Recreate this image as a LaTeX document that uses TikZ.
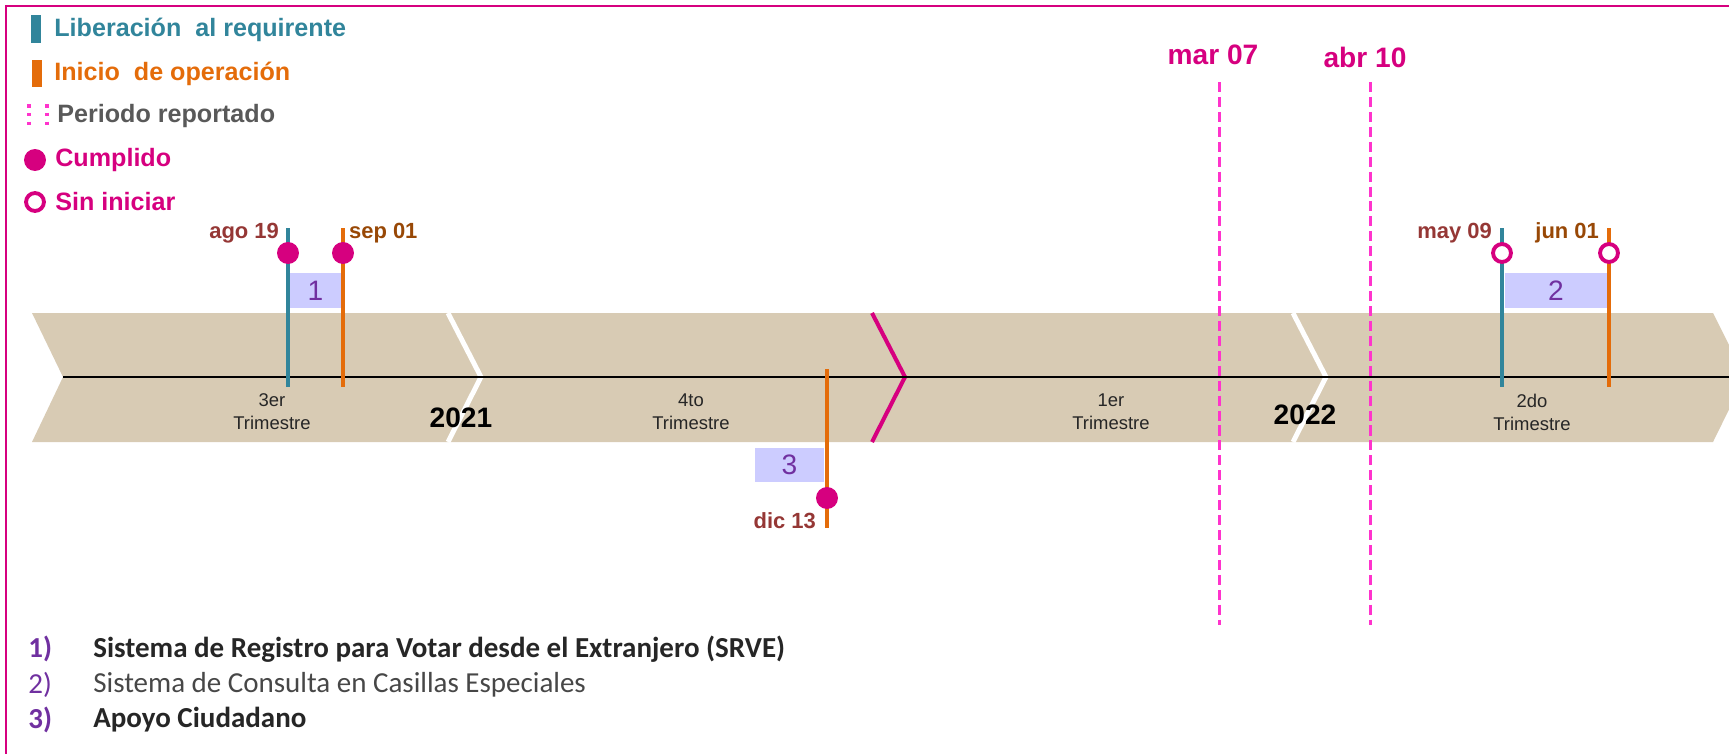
\documentclass[tikz,border=0pt]{standalone}
\usepackage{fontspec}
\setmainfont{Liberation Sans}
\newfontfamily\calibri{Carlito}
\usetikzlibrary{positioning}

\begin{document}
\begin{tikzpicture}[x=0.02cm,y=-0.02cm,
	hito/.style={line width=2.3pt},
	cumplido/.style={circle,fill=rosa,minimum size=12.5pt,inner sep=0pt},
	sininiciar/.style={circle,draw=rosa,fill=white,line width=2.2pt,minimum size=10.2pt,inner sep=0pt},
	fecha/.style={font=\bfseries\fontsize{12.5}{14}\selectfont,inner sep=1pt},
	caja/.style={fill=lila,text=morado,font=\fontsize{16}{18}\selectfont,inner sep=0pt,minimum height=19.8pt},
	trim/.style={align=center,text=texto,font=\fontsize{10.5}{13}\selectfont},
	anio/.style={font=\bfseries\fontsize{16}{18}\selectfont},
	leyenda/.style={anchor=west,inner sep=0pt,font=\bfseries\fontsize{14.3}{16}\selectfont},
	lista/.style={anchor=west,inner sep=0pt,text=texto,font=\calibri\fontsize{16.5}{18}\selectfont},
	listab/.style={lista,font=\calibri\bfseries\fontsize{16.5}{18}\selectfont},
	corte/.style={draw=white,line width=2.8pt},
	periodo/.style={draw=rosaclaro,line width=1.7pt,dash pattern=on 5.7pt off 2.8pt}]
	
	\definecolor{liber}{RGB}{49,133,155}
	\definecolor{inicio}{RGB}{228,108,10}
	\definecolor{rosa}{RGB}{214,0,127}
	\definecolor{rosaclaro}{RGB}{255,51,204}
	\definecolor{beige}{RGB}{216,203,180}
	\definecolor{lila}{RGB}{204,204,255}
	\definecolor{morado}{RGB}{112,48,160}
	\definecolor{vino}{RGB}{149,55,53}
	\definecolor{cafe}{RGB}{152,72,6}
	\definecolor{gris}{RGB}{89,89,89}
	\definecolor{texto}{RGB}{38,38,38}
	
	\path[use as bounding box,clip] (0,0) rectangle (1729,754);
	\draw[rosa,line width=1.2pt] (6,760) -- (6,6) -- (1735,6);
	
	% leyenda
	\fill[liber] (31,15) rectangle (41,43);
	\node[leyenda,text=liber] (lib) at (54,30) {Liberación\ \ al requirente};
	\fill[inicio] (32,60) rectangle (42,87);
	\node[leyenda,text=inicio] (ini) at (54,74) {Inicio\ \ de operación};
	\draw[rosaclaro,line width=2pt,dash pattern=on 2pt off 3pt] (29,104) -- (29,128);
	\draw[rosaclaro,line width=2pt,dash pattern=on 2pt off 3pt] (47,104) -- (47,128);
	\node[leyenda,text=gris] (per) at (57,116) {Periodo reportado};
	\node[cumplido] (lc) at (35,160) {};
	\node[leyenda,text=rosa] (cum) at (55,160) {Cumplido};
	\node[sininiciar] (ls) at (35,202) {};
	\node[leyenda,text=rosa] (sin) at (55,202) {Sin iniciar};
	
	% linea de tiempo
	\fill[beige] (32,313) -- (1713,313) -- (1745,377) -- (1713,442) -- (32,442) -- (63,377) -- cycle;
	\draw[corte] (448,313) -- (481,377) -- (448,442);
	\draw[corte] (1293,313) -- (1326,377) -- (1293,442);
	\draw[rosa,line width=2.3pt] (872,313) -- (905,377) -- (872,442);
	\draw[line width=1.2pt] (63,377) -- (1729,377);
	
	\node[trim] (t3) at (272,412) {3er\\Trimestre};
	\node[trim] (t4) at (691,412) {4to\\Trimestre};
	\node[trim] (t1) at (1111,412) {1er\\Trimestre};
	\node[trim] (t2) at (1532,412) {2do\\Trimestre};
	\node[anio] (a21) at (461,418) {2021};
	\node[anio] (a22) at (1305,415) {2022};
	
	% periodo reportado
	\node[anio,text=rosa] (mar) at (1213,55) {mar 07};
	\node[anio,text=rosa] (abr) at (1365,57) {abr 10};
	\coordinate (m0) at (1219,82);
	\coordinate (m1) at (1219,625);
	\coordinate (b0) at (1370,82);
	\coordinate (b1) at (1370,625);
	\draw[periodo] (m0) -- (m1);
	\draw[periodo] (b0) -- (b1);
	
	% sistema 1
	\node[caja,minimum width=28.9pt] (c1) at (315.5,290.5) {1};
	\coordinate (l1a) at (288,228);
	\coordinate (l1b) at (288,387);
	\coordinate (o1a) at (343,228);
	\coordinate (o1b) at (343,387);
	\draw[hito,liber] (l1a) -- (l1b);
	\draw[hito,inicio] (o1a) -- (o1b);
	\node[cumplido] (p1) at (288,253) {};
	\node[cumplido] (q1) at (343,253) {};
	\node[fecha,text=vino,anchor=east] (f1) at (281,233) {ago 19};
	\node[fecha,text=cafe,anchor=west] (g1) at (347,233) {sep 01};
	
	% sistema 2
	\node[caja,minimum width=57.8pt] (c2) at (1556,290.5) {2};
	\coordinate (l2a) at (1502,228);
	\coordinate (l2b) at (1502,387);
	\coordinate (o2a) at (1609,228);
	\coordinate (o2b) at (1609,387);
	\draw[hito,liber] (l2a) -- (l2b);
	\draw[hito,inicio] (o2a) -- (o2b);
	\node[sininiciar] (p2) at (1502,253) {};
	\node[sininiciar] (q2) at (1609,253) {};
	\node[fecha,text=vino,anchor=east] (f2) at (1494,233) {may 09};
	\node[fecha,text=cafe,anchor=east] (g2) at (1601,233) {jun 01};
	
	% sistema 3
	\node[caja,minimum width=39.1pt,minimum height=19.3pt] (c3) at (789.5,465) {3};
	\coordinate (o3a) at (827,369);
	\coordinate (o3b) at (827,528);
	\draw[hito,inicio] (o3a) -- (o3b);
	\node[cumplido] (q3) at (827,498) {};
	\node[fecha,text=vino,anchor=east] (g3) at (818,521) {dic 13};
	
	% sistemas
	\node[listab,text=morado] (n1) at (28,649) {1)};
	\node[listab] (s1) at (93,649) {Sistema de Registro para Votar desde el Extranjero (SRVE)};
	\node[lista,text=morado] (n2) at (28,685) {2)};
	\node[lista,text=gris!80!black] (s2) at (93,685) {Sistema de Consulta en Casillas Especiales};
	\node[listab,text=morado] (n3) at (28,720) {3)};
	\node[listab] (s3) at (93,720) {Apoyo Ciudadano};
\end{tikzpicture}
\end{document}
